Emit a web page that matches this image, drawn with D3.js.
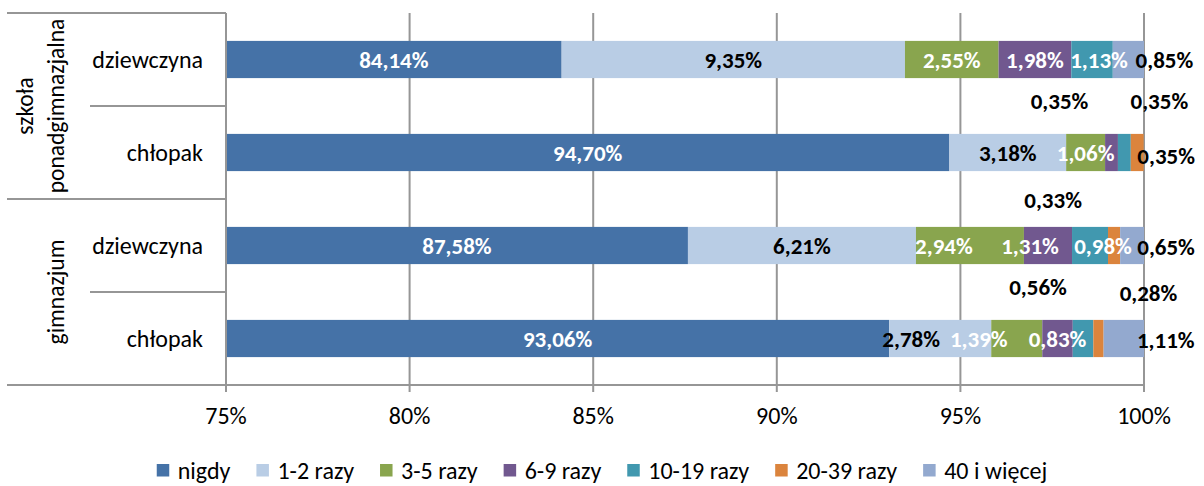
<!DOCTYPE html>
<html><head><meta charset="utf-8">
<script src="https://cdn.jsdelivr.net/npm/d3@7"></script>
<style>
html,body{margin:0;padding:0;background:#fff;}
svg text{font-family:Carlito, Calibri, Lato, sans-serif;}
</style></head>
<body><svg id="chart" width="1204" height="486"></svg>
<script>
// ---- data ----
const rowLabels = ["dziewczyna", "chłopak", "dziewczyna", "chłopak"];
const groupLabels = [["szkoła", "ponadgimnazjalna"], ["gimnazjum"]];
const groupRows = [[0, 1], [2, 3]];
const seriesNames = ["nigdy", "1-2 razy", "3-5 razy", "6-9 razy", "10-19 razy", "20-39 razy", "40 i więcej"];
const nigdy      = [84.14, 94.70, 87.58, 93.06];
const razy1_2    = [9.35, 3.18, 6.21, 2.78];
const razy3_5    = [2.55, 1.06, 2.94, 1.39];
const razy6_9    = [1.98, 0.35, 1.31, 0.83];
const razy10_19  = [1.13, 0.35, 0.98, 0.56];
const razy20_39  = [0, 0.35, 0.33, 0.28];
const wiecej40   = [0.85, 0, 0.65, 1.11];
const tickValues = [75, 80, 85, 90, 95, 100];
const tickLabels = ["75%", "80%", "85%", "90%", "95%", "100%"];

// ---- style / layout ----
const colors = ["#4572A7", "#B9CDE5", "#89A54E", "#71588F", "#4198AF", "#DB843D", "#93A9CF"];
// manual label nudges (px) keyed "row-series"
const labelNudge = {
  "0-4": [7, 0], "0-6": [36, 0],
  "1-3": [-52, -52], "1-4": [35, -52], "1-5": [29, 3],
  "2-2": [-26, 0], "2-3": [-18, 0], "2-4": [13, 0], "2-5": [-61, -46], "2-6": [34, 1],
  "3-1": [-29, 0], "3-2": [-38, 0], "3-4": [-45, -52], "3-5": [50, -46], "3-6": [42, 1]
};
const FONT = 24, LBL = 23, LEG = 24;
const gridColor = "#969696";

const values = [nigdy, razy1_2, razy3_5, razy6_9, razy10_19, razy20_39, wiecej40];
const svg = d3.select("#chart");
const plotTop = 13, plotBottom = 385;
const x = d3.scaleLinear().domain([75, 100]).range([226, 1144]);
const y = d3.scaleBand().domain(d3.range(rowLabels.length)).range([plotTop, plotBottom])
  .paddingInner(0.6).paddingOuter(0.3);
const step = y.step();

// gridlines
svg.append("g").selectAll("line").data(tickValues).join("line")
  .attr("x1", d => x(d)).attr("x2", d => x(d))
  .attr("y1", plotTop).attr("y2", plotBottom + 7)
  .attr("stroke", gridColor).attr("stroke-width", 2);

// stacked data
const stacked = rowLabels.map((r, i) => {
  let cum = 0;
  return values.map((arr, s) => {
    const v = arr[i]; const start = cum; cum += v;
    return {row: i, s, v, start, end: cum};
  });
});

const bars = svg.append("g");
stacked.forEach(segs => {
  bars.selectAll(null).data(segs.filter(d => d.v > 0)).join("rect")
    .attr("x", d => x(Math.max(d.start, 75)))
    .attr("width", d => Math.max(0, x(Math.min(d.end, 100)) - x(Math.max(d.start, 75))))
    .attr("y", d => y(d.row)).attr("height", y.bandwidth())
    .attr("fill", d => colors[d.s]);
});

// axes lines
svg.append("line").attr("x1", x(75)).attr("x2", x(75)).attr("y1", plotTop).attr("y2", plotBottom + 7)
  .attr("stroke", gridColor).attr("stroke-width", 2);
svg.append("line").attr("x1", 7).attr("x2", x(100)).attr("y1", plotBottom).attr("y2", plotBottom)
  .attr("stroke", gridColor).attr("stroke-width", 2);
// category separators
const seps = [];
groupRows.forEach(g => { seps.push({y: y(g[0]) - step * 0.3, x1: 7}); seps.push({y: y(g[1]) - step * 0.3, x1: 90}); });
svg.append("g").selectAll("line").data(seps).join("line")
  .attr("x1", d => d.x1).attr("x2", x(75)).attr("y1", d => d.y).attr("y2", d => d.y)
  .attr("stroke", gridColor).attr("stroke-width", 2);

// data labels
const fmt = v => v.toFixed(2).replace(".", ",") + "%";
stacked.forEach(segs => {
  svg.append("g").selectAll("text").data(segs.filter(d => d.v > 0)).join("text")
    .each(function(d) {
      const n = labelNudge[d.row + "-" + d.s] || [0, 0];
      const cx = (x(Math.max(d.start, 75)) + x(Math.min(d.end, 100))) / 2 + n[0];
      const cy = y(d.row) + y.bandwidth() / 2 + n[1];
      const outside = Math.abs(n[1]) > 10 || cx > x(100);
      d3.select(this).attr("x", cx).attr("y", cy)
        .attr("fill", (d.s === 1 || outside) ? "#000" : "#fff");
    })
    .attr("text-anchor", "middle").attr("dominant-baseline", "central")
    .attr("font-size", LBL).attr("font-weight", "bold")
    .text(d => fmt(d.v));
});

// row labels
svg.append("g").selectAll("text").data(rowLabels).join("text")
  .attr("x", 203).attr("y", (d, i) => y(i) + y.bandwidth() / 2)
  .attr("text-anchor", "end").attr("dominant-baseline", "central")
  .attr("font-size", FONT).attr("fill", "#000").text(d => d);

// group labels (rotated)
groupLabels.forEach((lines, gi) => {
  const rowsIdx = groupRows[gi];
  const cy = (y(rowsIdx[0]) - step * 0.3 + y(rowsIdx[rowsIdx.length - 1]) + step * 0.7) / 2;
  const lh = 31;
  const cx0 = 56 - (lines.length - 1) * lh;
  lines.forEach((t, li) => {
    const cx = cx0 + li * lh;
    svg.append("text").attr("transform", `translate(${cx},${cy}) rotate(-90)`)
      .attr("text-anchor", "middle").attr("dominant-baseline", "central")
      .attr("font-size", FONT - 0.5).attr("fill", "#000").text(t);
  });
});

// x tick labels
svg.append("g").selectAll("text").data(tickValues).join("text")
  .attr("x", d => x(d)).attr("y", 415)
  .attr("text-anchor", "middle").attr("dominant-baseline", "central")
  .attr("font-size", FONT).attr("fill", "#000").text((d, i) => tickLabels[i]);

// legend
const lg = svg.append("g");
const items = seriesNames.map((name, i) => {
  const g = lg.append("g");
  g.append("rect").attr("width", 12.5).attr("height", 12.5).attr("y", -6).attr("fill", colors[i]);
  const t = g.append("text").attr("x", 21).attr("dominant-baseline", "central")
    .attr("font-size", LEG).attr("fill", "#000").text(name);
  return {g, w: 21 + t.node().getComputedTextLength()};
});
const gap = 26;
const total = d3.sum(items, d => d.w) + gap * (items.length - 1);
let lx = 602 - total / 2;
items.forEach(it => { it.g.attr("transform", `translate(${lx},470)`); lx += it.w + gap; });
</script></body></html>
